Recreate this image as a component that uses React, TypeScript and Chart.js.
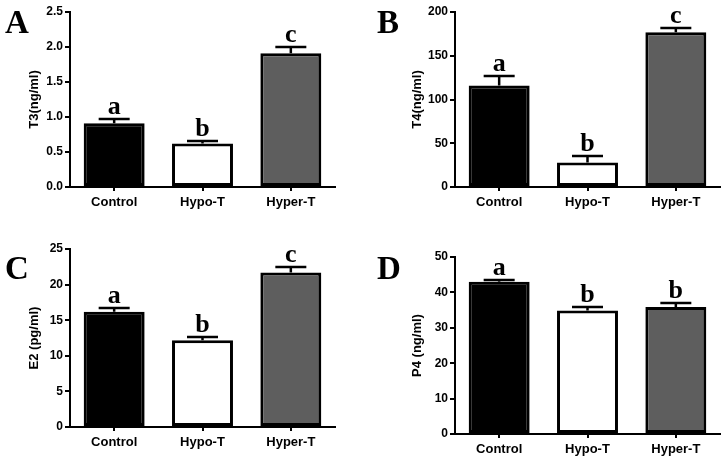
import React, { useEffect, useRef } from "react";
import { Chart, registerables } from "chart.js";

Chart.register(...registerables);

// ---------- data ----------
const categories = ["Control", "Hypo-T", "Hyper-T"];
const barColors = ["#000000", "#ffffff", "#5e5e5e"];

const t3Values = [0.91, 0.62, 1.91];
const t3Errors = [0.06, 0.04, 0.09];
const t3Letters = ["a", "b", "c"];
const t3Ticks = ["0.0", "0.5", "1.0", "1.5", "2.0", "2.5"];

const t4Values = [116, 28, 177];
const t4Errors = [11, 8, 4.5];
const t4Letters = ["a", "b", "c"];
const t4Ticks = ["0", "50", "100", "150", "200"];

const e2Values = [16.2, 12.2, 21.7];
const e2Errors = [0.5, 0.4, 0.8];
const e2Letters = ["a", "b", "c"];
const e2Ticks = ["0", "5", "10", "15", "20", "25"];

const p4Values = [43.0, 34.9, 35.9];
const p4Errors = [0.5, 1.0, 1.1];
const p4Letters = ["a", "b", "b"];
const p4Ticks = ["0", "10", "20", "30", "40", "50"];

const SANS = "'Liberation Sans', Arial, Helvetica, sans-serif";
const SERIF = "'Liberation Serif', 'Times New Roman', serif";

const W = 363;
const H = 229;

type PanelCfg = {
  letter: string;
  title: string;
  values: number[];
  errors: number[];
  sig: string[];
  ticks: string[];
  max: number;
  step: number;
  area: { left: number; right: number; top: number; bottom: number };
  titleX: number;
  letterX: number;
  letterY: number;
  pos: { x: number; y: number };
};

const panels: PanelCfg[] = [
  {
    letter: "A", title: "T3(ng/ml)", values: t3Values, errors: t3Errors, sig: t3Letters,
    ticks: t3Ticks, max: 2.5, step: 0.5,
    area: { left: 70, right: 335, top: 12, bottom: 187 },
    titleX: 34, letterX: 5, letterY: 33, pos: { x: 0, y: 0 },
  },
  {
    letter: "B", title: "T4(ng/ml)", values: t4Values, errors: t4Errors, sig: t4Letters,
    ticks: t4Ticks, max: 200, step: 50,
    area: { left: 92, right: 357, top: 12, bottom: 187 },
    titleX: 54, letterX: 14, letterY: 33, pos: { x: 363, y: 0 },
  },
  {
    letter: "C", title: "E2 (pg/ml)", values: e2Values, errors: e2Errors, sig: e2Letters,
    ticks: e2Ticks, max: 25, step: 5,
    area: { left: 70, right: 335, top: 20, bottom: 198 },
    titleX: 34, letterX: 5, letterY: 50, pos: { x: 0, y: 229 },
  },
  {
    letter: "D", title: "P4 (ng/ml)", values: p4Values, errors: p4Errors, sig: p4Letters,
    ticks: p4Ticks, max: 50, step: 10,
    area: { left: 92, right: 357, top: 28, bottom: 205 },
    titleX: 54, letterX: 14, letterY: 50, pos: { x: 363, y: 229 },
  },
];

function Panel({ cfg }: { cfg: PanelCfg }) {
  const ref = useRef<HTMLCanvasElement | null>(null);

  useEffect(() => {
    if (!ref.current) return;
    const titleFont = { family: SANS, size: 13, weight: "bold" as const };
    const titleLH = 13 * 1.2;

    const annot = {
      id: "annot" + cfg.letter,
      afterDatasetsDraw(chart: any) {
        const ctx = chart.ctx as CanvasRenderingContext2D;
        const meta = chart.getDatasetMeta(0);
        const ys = chart.scales.y;
        ctx.save();
        ctx.strokeStyle = "#000";
        ctx.fillStyle = "#000";
        ctx.lineWidth = 2.5;
        meta.data.forEach((bar: any, i: number) => {
          const x = bar.x;
          const yTop = ys.getPixelForValue(cfg.values[i]);
          const yErr = Math.round(ys.getPixelForValue(cfg.values[i] + cfg.errors[i]));
          ctx.beginPath();
          ctx.moveTo(x, yTop);
          ctx.lineTo(x, yErr);
          ctx.moveTo(x - 15.5, yErr);
          ctx.lineTo(x + 15.5, yErr);
          ctx.stroke();
          ctx.font = `bold 26px ${SERIF}`;
          ctx.textAlign = "center";
          ctx.textBaseline = "alphabetic";
          ctx.fillText(cfg.sig[i], x, yErr - 5);
        });
        ctx.font = `bold 33px ${SERIF}`;
        ctx.textAlign = "left";
        ctx.textBaseline = "alphabetic";
        ctx.fillText(cfg.letter, cfg.letterX, cfg.letterY);
        ctx.restore();
      },
    };

    const chart = new Chart(ref.current, {
      type: "bar",
      data: {
        labels: categories,
        datasets: [
          {
            data: cfg.values,
            backgroundColor: barColors,
            borderColor: "#000",
            borderWidth: 3,
            borderSkipped: false,
            barPercentage: 0.69,
            categoryPercentage: 1,
          },
        ],
      },
      options: {
        responsive: false,
        animation: false,
        devicePixelRatio: 1,
        layout: {
          padding: {
            left: 0,
            top: cfg.area.top,
            right: W - cfg.area.right,
            bottom: 0,
          },
        },
        plugins: {
          legend: { display: false },
          tooltip: { enabled: false },
          title: { display: false },
        },
        scales: {
          x: {
            offset: true,
            grid: {
              offset: false,
              drawOnChartArea: false,
              drawTicks: true,
              tickLength: 4,
              color: "#000",
              lineWidth: 2,
            },
            border: { display: true, color: "#000", width: 2 },
            ticks: {
              color: "#000",
              font: { family: SANS, size: 13, weight: "bold" },
              padding: 4,
              autoSkip: false,
              maxRotation: 0,
            },
            afterFit: (scale: any) => {
              scale.height = H - cfg.area.bottom;
            },
          },
          y: {
            min: 0,
            max: cfg.max,
            grid: {
              drawOnChartArea: false,
              drawTicks: true,
              tickLength: 5,
              color: "#000",
              lineWidth: 2,
            },
            border: { display: true, color: "#000", width: 2 },
            ticks: {
              stepSize: cfg.step,
              color: "#000",
              font: { family: SANS, size: 12, weight: "bold" },
              padding: 2,
              callback: (_v: any, i: number) => cfg.ticks[i],
            },
            title: {
              display: true,
              text: cfg.title,
              color: "#000",
              font: titleFont,
              padding: { top: cfg.titleX - titleLH / 2, bottom: 0 },
            },
            afterFit: (scale: any) => {
              scale.width = cfg.area.left;
            },
          },
        },
      },
      plugins: [annot],
    });
    return () => chart.destroy();
  }, [cfg]);

  return (
    <canvas
      ref={ref}
      width={W}
      height={H}
      style={{ position: "absolute", left: cfg.pos.x, top: cfg.pos.y, width: W, height: H }}
    />
  );
}

export default function App() {
  return (
    <div
      style={{
        position: "fixed",
        left: 0,
        top: 0,
        width: 726,
        height: 458,
        background: "#ffffff",
        overflow: "hidden",
      }}
    >
      {panels.map((p) => (
        <Panel key={p.letter} cfg={p} />
      ))}
    </div>
  );
}
